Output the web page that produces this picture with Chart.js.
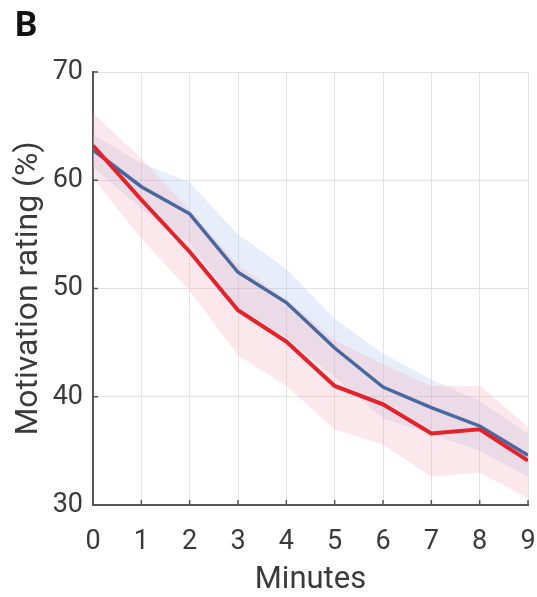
<!DOCTYPE html>
<html>
<head>
<meta charset="utf-8">
<script src="https://cdn.jsdelivr.net/npm/chart.js@4/dist/chart.umd.min.js"></script>
<style>
  html, body { margin: 0; padding: 0; background: #fff; }
  #wrap { width: 537px; height: 597px; position: relative; }
</style>
</head>
<body>
<div id="wrap"><canvas id="c" width="537" height="597"></canvas></div>
<script>
// Minutes on the x axis
const minutes = [0, 1, 2, 3, 4, 5, 6, 7, 8, 9];

// Mean motivation rating (%) per group
const blueMean = [62.8, 59.4, 56.9, 51.5, 48.7, 44.5, 40.9, 39.0, 37.3, 34.6];
const redMean  = [63.2, 58.2, 53.4, 48.0, 45.1, 41.0, 39.3, 36.6, 37.0, 34.1];

// Shaded error bands (upper / lower edges)
const blueUpper = [64.2, 61.6, 59.8, 55.0, 51.8, 47.2, 44.0, 41.6, 39.6, 36.6];
const blueLower = [61.2, 57.4, 54.2, 48.2, 45.4, 41.8, 38.0, 36.6, 35.0, 32.6];
const redUpper  = [66.2, 62.0, 57.2, 52.2, 49.0, 45.2, 43.0, 41.0, 41.0, 37.2];
const redLower  = [60.2, 54.6, 49.8, 43.8, 41.0, 37.0, 35.6, 32.6, 33.0, 30.6];

// Axis ticks
const xTicks = [0, 1, 2, 3, 4, 5, 6, 7, 8, 9];
const yTicks = [30, 40, 50, 60, 70];

const pts = arr => arr.map((v, i) => ({ x: minutes[i], y: v }));

const FONT = 'Roboto, "Liberation Sans", sans-serif';

// Inward tick marks and the panel letter
const decorations = {
  id: 'decorations',
  afterDraw(chart) {
    const { ctx, chartArea, scales } = chart;
    ctx.save();
    ctx.strokeStyle = '#555';
    ctx.lineWidth = 1.5;
    xTicks.forEach(t => {
      const px = scales.x.getPixelForValue(t);
      ctx.beginPath();
      ctx.moveTo(px, chartArea.bottom);
      ctx.lineTo(px, chartArea.bottom - 5);
      ctx.stroke();
    });
    yTicks.forEach(t => {
      const py = scales.y.getPixelForValue(t);
      ctx.beginPath();
      ctx.moveTo(chartArea.left, py);
      ctx.lineTo(chartArea.left + 5, py);
      ctx.stroke();
    });
    ctx.fillStyle = '#111';
    ctx.font = 'bold 35px ' + FONT;
    ctx.textBaseline = 'alphabetic';
    ctx.textAlign = 'left';
    ctx.fillText('B', 15, 36);
    ctx.restore();
  }
};

new Chart(document.getElementById('c'), {
  type: 'line',
  data: {
    datasets: [
      { data: pts(redMean), borderColor: '#e3222b', borderWidth: 4, pointRadius: 0, fill: false, order: 0, tension: 0 },
      { data: pts(blueMean), borderColor: '#4a68a0', borderWidth: 3.5, pointRadius: 0, fill: false, order: 1, tension: 0 },
      { data: pts(blueUpper), borderWidth: 0, borderColor: 'rgba(0,0,0,0)', pointRadius: 0, fill: '+1', backgroundColor: 'rgba(170,195,235,0.28)', order: 3 },
      { data: pts(blueLower), borderWidth: 0, borderColor: 'rgba(0,0,0,0)', pointRadius: 0, fill: false, order: 3 },
      { data: pts(redUpper), borderWidth: 0, borderColor: 'rgba(0,0,0,0)', pointRadius: 0, fill: '+1', backgroundColor: 'rgba(245,170,185,0.28)', order: 2 },
      { data: pts(redLower), borderWidth: 0, borderColor: 'rgba(0,0,0,0)', pointRadius: 0, fill: false, order: 2 }
    ]
  },
  options: {
    responsive: false,
    animation: false,
    layout: { padding: { top: 72, right: 9, left: 0, bottom: 0 } },
    plugins: { legend: { display: false }, tooltip: { enabled: false } },
    scales: {
      x: {
        type: 'linear',
        min: 0, max: 9,
        afterBuildTicks: s => { s.ticks = xTicks.map(v => ({ value: v })); },
        afterFit: s => { s.height = 92; s.paddingLeft = 0; s.paddingRight = 0; },
        grid: { color: '#e2e2e2', lineWidth: 1, drawTicks: false },
        border: { color: '#555', width: 2 },
        ticks: { color: '#3a3a3a', font: { family: FONT, size: 27 }, padding: 21, maxRotation: 0 },
        title: { display: true, text: 'Minutes', color: '#3a3a3a', font: { family: FONT, size: 31 }, padding: { top: 0, bottom: -2 } }
      },
      y: {
        type: 'linear',
        min: 30, max: 70,
        afterBuildTicks: s => { s.ticks = yTicks.map(v => ({ value: v })); },
        afterFit: s => { s.width = 93; },
        grid: { color: '#e2e2e2', lineWidth: 1, drawTicks: false },
        border: { color: '#555', width: 2 },
        ticks: { color: '#3a3a3a', font: { family: FONT, size: 27 }, padding: 10 },
        title: { display: true, text: 'Motivation rating (%)', color: '#3a3a3a', font: { family: FONT, size: 32 }, padding: { top: 10, bottom: 0 } }
      }
    }
  },
  plugins: [decorations]
});
</script>
</body>
</html>
